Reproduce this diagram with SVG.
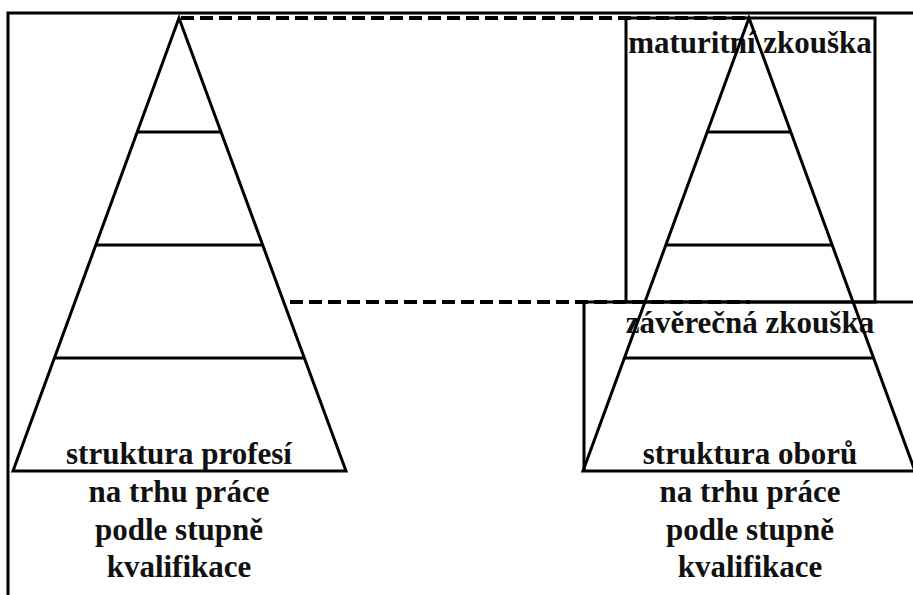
<svg xmlns="http://www.w3.org/2000/svg" width="913" height="595" viewBox="0 0 913 595">
<style>
.ln{stroke:#000;stroke-width:3;fill:none}
.dash{stroke:#000;stroke-width:4;fill:none;stroke-dasharray:13 6}
.t{font-family:"Liberation Serif","Times New Roman",serif;font-weight:bold;font-size:31px;fill:#111;text-anchor:middle}
</style>
<rect width="913" height="595" fill="#fff"/>
<g id="frame">
<polyline class="ln" points="8,595 8,13 913,13"/>
</g>
<g id="left-pyramid">
<polygon class="ln" points="179,18 13,471 346,471"/>
<line class="ln" x1="137" y1="132" x2="221" y2="132"/>
<line class="ln" x1="96" y1="245" x2="262" y2="245"/>
<line class="ln" x1="55" y1="358" x2="304" y2="358"/>
<text class="t" x="179" y="464">struktura profesí</text>
<text class="t" x="179" y="502">na trhu práce</text>
<text class="t" x="179" y="540">podle stupně</text>
<text class="t" x="179" y="577">kvalifikace</text>
</g>
<g id="maturitni-box">
<rect class="ln" x="626" y="18" width="249" height="284"/>
<text class="t" x="750" y="53">maturitní zkouška</text>
</g>
<g id="zaverecna-box">
<polyline class="ln" points="913,302 584,302 584,471"/>
<text class="t" x="750" y="333">závěrečná zkouška</text>
</g>
<g id="right-pyramid">
<polygon class="ln" points="749,18 583,471 915,471"/>
<line class="ln" x1="707" y1="132" x2="791" y2="132"/>
<line class="ln" x1="666" y1="245" x2="832" y2="245"/>
<line class="ln" x1="625" y1="358" x2="873" y2="358"/>
<text class="t" x="750" y="464">struktura oborů</text>
<text class="t" x="750" y="502">na trhu práce</text>
<text class="t" x="750" y="540">podle stupně</text>
<text class="t" x="750" y="577">kvalifikace</text>
</g>
<g id="connectors">
<line class="dash" x1="181" y1="18" x2="749" y2="18"/>
<line class="dash" x1="290" y1="302" x2="750" y2="302"/>
</g>
</svg>
